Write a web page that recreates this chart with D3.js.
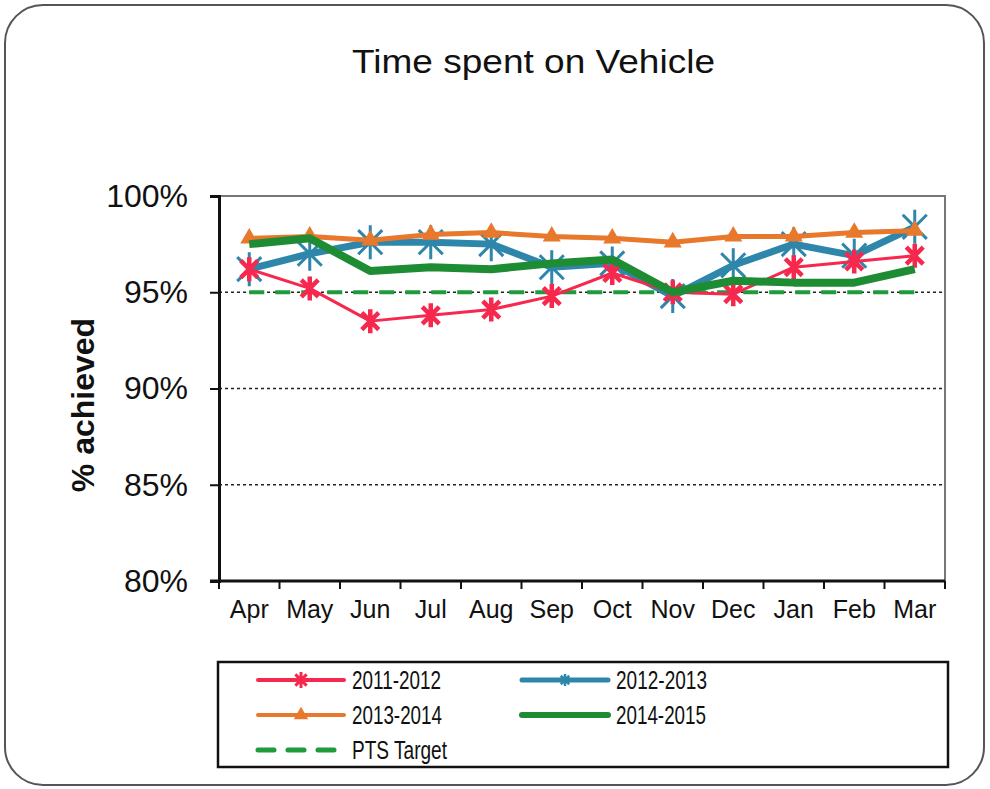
<!DOCTYPE html>
<html>
<head>
<meta charset="utf-8">
<script src="https://cdn.jsdelivr.net/npm/d3@7"></script>
<style>
  body { margin: 0; background: #fff; }
  text { font-family: "Liberation Sans", Arial, sans-serif; fill: #111; }
</style>
</head>
<body>
<div id="canvas"></div>
<script>
// data
var months = ['Apr','May','Jun','Jul','Aug','Sep','Oct','Nov','Dec','Jan','Feb','Mar'];
var y2011 = [96.2, 95.2, 93.5, 93.8, 94.1, 94.8, 96.0, 95.0, 94.9, 96.3, 96.6, 96.9];
var y2012 = [96.2, 97.0, 97.6, 97.6, 97.5, 96.3, 96.5, 94.8, 96.4, 97.5, 96.9, 98.4];
var y2013 = [97.8, 97.9, 97.7, 98.0, 98.1, 97.9, 97.8, 97.6, 97.9, 97.9, 98.1, 98.2];
var y2014 = [97.5, 97.8, 96.1, 96.3, 96.2, 96.5, 96.7, 95.0, 95.6, 95.5, 95.5, 96.2];
var target = [95, 95, 95, 95, 95, 95, 95, 95, 95, 95, 95, 95];
var yTicks = [80, 85, 90, 95, 100];

var W = 990, H = 789;
var m = {t:196, r:45, b:208, l:219};
var w = W - m.l - m.r, h = H - m.t - m.b;

var svg = d3.select('#canvas').append('svg')
    .attr('width', W).attr('height', H);

// outer rounded frame
svg.append('rect')
    .attr('x', 5).attr('y', 5).attr('width', 979).attr('height', 780)
    .attr('rx', 38).attr('ry', 38)
    .attr('fill', '#fff').attr('stroke', '#555').attr('stroke-width', 2);

svg.append('text')
    .attr('x', 352).attr('y', 73)
    .attr('textLength', 363).attr('lengthAdjust', 'spacingAndGlyphs')
    .style('font-size', '34px')
    .text('Time spent on Vehicle');

var plot = svg.append('g')
    .attr('transform', 'translate(' + m.l + ',' + m.t + ')');

var x = d3.scalePoint().domain(months).range([0, w]).padding(0.5);
var xb = d3.scaleBand().domain(months).range([0, w]);
var y = d3.scaleLinear().domain([80, 100]).range([h, 0]);

// gridlines (dotted)
plot.selectAll('.grid')
    .data(yTicks.filter(function(d){ return d > 80 && d < 100; }))
  .enter().append('line')
    .attr('x1', 0).attr('x2', w)
    .attr('y1', function(d){ return y(d); })
    .attr('y2', function(d){ return y(d); })
    .attr('stroke', '#222').attr('stroke-width', 1.5)
    .attr('stroke-dasharray', '3,3');

// plot area frame top/right
plot.append('path')
    .attr('d', 'M0,' + y(100) + 'H' + w + 'V' + h)
    .attr('fill', 'none').attr('stroke', '#777').attr('stroke-width', 2);

// y axis
var yAxis = plot.append('g')
    .call(d3.axisLeft(y).tickValues(yTicks).tickSize(9).tickPadding(22)
        .tickFormat(function(d){ return d + '%'; }));
yAxis.select('.domain').attr('stroke', '#111').attr('stroke-width', 3);
yAxis.selectAll('.tick line').attr('stroke', '#111').attr('stroke-width', 2);
yAxis.selectAll('text')
    .style('font-size', '32px')
    .style('font-family', '"Liberation Sans", Arial, sans-serif')
    .attr('fill', '#111');

// x axis: ticks at category boundaries, labels centred
var xAxis = plot.append('g')
    .attr('transform', 'translate(0,' + h + ')');
xAxis.append('line')
    .attr('x1', -9).attr('x2', w)
    .attr('stroke', '#111').attr('stroke-width', 3);
xAxis.selectAll('.xt')
    .data(months.concat(['end']))
  .enter().append('line')
    .attr('x1', function(d, i){ return i < months.length ? xb(d) : w; })
    .attr('x2', function(d, i){ return i < months.length ? xb(d) : w; })
    .attr('y1', 0).attr('y2', 8)
    .attr('stroke', '#111').attr('stroke-width', 2);
xAxis.selectAll('.xl')
    .data(months)
  .enter().append('text')
    .attr('x', function(d){ return x(d); })
    .attr('y', 37)
    .attr('text-anchor', 'middle')
    .style('font-size', '25px')
    .text(function(d){ return d; });

svg.append('text')
    .attr('transform', 'translate(94,405) rotate(-90)')
    .attr('text-anchor', 'middle')
    .style('font-size', '32px')
    .style('font-weight', 'bold')
    .text('% achieved');

// markers
function asterisk(r){
  var a = r * Math.cos(Math.PI / 4);
  return 'M0,' + (-r) + 'V' + r +
         'M' + (-a) + ',' + (-a) + 'L' + a + ',' + a +
         'M' + (-a) + ',' + a + 'L' + a + ',' + (-a);
}

var line = d3.line()
    .x(function(d, i){ return x(months[i]); })
    .y(function(d){ return y(d); });

var series = [
  {name:'PTS Target', vals:target, color:'#1f9a3c', width:4, dash:'15,11', marker:null},
  {name:'2012-2013', vals:y2012, color:'#2e86ab', width:7, marker:'bigstar'},
  {name:'2013-2014', vals:y2013, color:'#e8782c', width:5, marker:'triangle'},
  {name:'2011-2012', vals:y2011, color:'#f7284e', width:3, marker:'star'},
  {name:'2014-2015', vals:y2014, color:'#1e8c32', width:8, marker:null}
];

function drawMarker(g, type, color){
  if (type === 'star') {
    g.append('path').attr('d', asterisk(12))
      .attr('stroke', color).attr('stroke-width', 4.5).attr('fill', 'none');
  } else if (type === 'bigstar') {
    g.append('path').attr('d', asterisk(17))
      .attr('stroke', color).attr('stroke-width', 3).attr('fill', 'none');
  } else if (type === 'triangle') {
    g.append('path').attr('d', d3.symbol().type(d3.symbolTriangle).size(140)())
      .attr('fill', color);
  }
}

series.forEach(function(s){
  plot.append('path')
    .datum(s.vals)
    .attr('d', line)
    .attr('fill', 'none')
    .attr('stroke', s.color)
    .attr('stroke-width', s.width)
    .attr('stroke-linejoin', 'round')
    .attr('stroke-dasharray', s.dash || null);
  if (s.marker) {
    s.vals.forEach(function(v, i){
      var g = plot.append('g')
        .attr('transform', 'translate(' + x(months[i]) + ',' + y(v) + ')');
      drawMarker(g, s.marker, s.color);
    });
  }
});

// legend
var legendItems = [
  {name:'2011-2012', color:'#f7284e', width:4, marker:'star', col:0, row:0, len:89},
  {name:'2012-2013', color:'#2e86ab', width:5, marker:'smallstar', col:1, row:0, len:91},
  {name:'2013-2014', color:'#e8782c', width:4, marker:'triangle', col:0, row:1, len:90},
  {name:'2014-2015', color:'#1e8c32', width:6, marker:null, col:1, row:1, len:90},
  {name:'PTS Target', color:'#1f9a3c', width:5, dash:'16,14', marker:null, col:0, row:2, len:95}
];

svg.append('rect')
    .attr('x', 218).attr('y', 662).attr('width', 730).attr('height', 105)
    .attr('fill', 'none').attr('stroke', '#111').attr('stroke-width', 2.5);

var lg = svg.selectAll('.leg')
    .data(legendItems)
  .enter().append('g')
    .attr('transform', function(d){
      return 'translate(' + (258 + d.col * 264) + ',' + (680 + d.row * 35) + ')';
    });
lg.append('line')
    .attr('x1', 0).attr('x2', 86)
    .attr('stroke', function(d){ return d.color; })
    .attr('stroke-width', function(d){ return d.width; })
    .attr('stroke-linecap', 'round')
    .attr('stroke-dasharray', function(d){ return d.dash || null; });
lg.each(function(d){
  var g = d3.select(this).append('g').attr('transform', 'translate(43,0)');
  if (d.marker === 'star') {
    g.append('path').attr('d', asterisk(8)).attr('stroke', d.color).attr('stroke-width', 3);
  } else if (d.marker === 'smallstar') {
    g.append('path').attr('d', asterisk(6)).attr('stroke', d.color).attr('stroke-width', 2.5);
  } else if (d.marker === 'triangle') {
    g.append('path').attr('d', d3.symbol().type(d3.symbolTriangle).size(90)()).attr('fill', d.color);
  }
});
lg.append('text')
    .attr('x', 94).attr('y', 9)
    .attr('textLength', function(d){ return d.len; })
    .attr('lengthAdjust', 'spacingAndGlyphs')
    .style('font-size', '25px')
    .text(function(d){ return d.name; });
</script>
</body>
</html>
